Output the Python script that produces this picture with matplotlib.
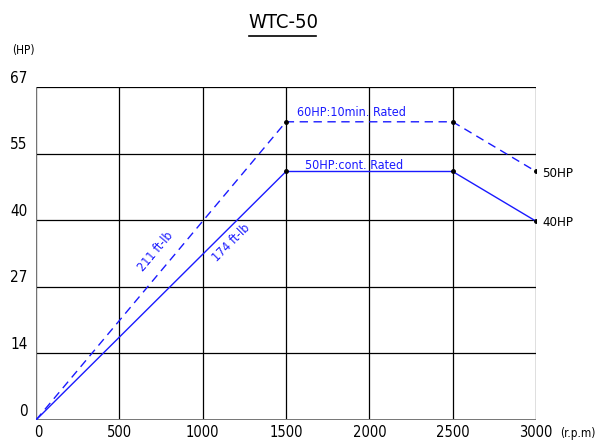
import matplotlib
matplotlib.use("Agg")
import matplotlib.pyplot as plt

plt.rcParams['font.family'] = ["DejaVu Sans"]
plt.rcParams['font.stretch'] = "condensed"

rpm = [0, 1500, 2500, 3000]
hp_10min = [0, 60, 60, 50]
hp_cont = [0, 50, 50, 40]
x_ticks = [0, 500, 1000, 1500, 2000, 2500, 3000]
y_tick_labels = ["0", "14", "27", "40", "55", "67"]
y_max = 67

BLUE = "#1a1aff"
FS = 10.5

fig = plt.figure(figsize=(5.95, 4.43), dpi=100)
ax = fig.add_axes([36/595, 23/443, 500/595, 333/443])
ax.set_xlim(0, 3000)
ax.set_ylim(0, y_max)

ypos = [y_max * i / (len(y_tick_labels) - 1) for i in range(len(y_tick_labels))]
for y in ypos:
    ax.axhline(y, color="black", lw=0.9, zorder=1)
for x in x_ticks:
    ax.axvline(x, color="black", lw=0.9, zorder=1)
for s in ax.spines.values():
    s.set_visible(False)
ax.axvline(0, color="#777777", lw=1.4, zorder=2)
ax.axhline(0, color="#777777", lw=1.4, zorder=2)

ax.plot(rpm, hp_10min, color=BLUE, lw=1.0, ls=(0, (6, 4)), zorder=3)
ax.plot(rpm, hp_cont, color=BLUE, lw=1.0, zorder=3)
ax.plot(rpm[1:], hp_10min[1:], 'o', color="black", ms=2.5, zorder=4)
ax.plot(rpm[1:], hp_cont[1:], 'o', color="black", ms=2.5, zorder=4)

ax.set_xticks([])
ax.set_yticks([])

for x in x_ticks:
    ax.text(x + (12 if x == 0 else 0), -1.1, str(x), ha="center", va="top",
            fontsize=FS, color="black", stretch="condensed")
for y, lab in zip(ypos, y_tick_labels):
    ax.text(-50, y + 0.3, lab, ha="right", va="bottom", fontsize=FS + 0.5,
            color="black", stretch="condensed")

ax.text(3252, -1.5, "(r.p.m)", ha="center", va="top", fontsize=8.5, stretch="condensed")
ax.text(-78, 74.4, "(HP)", ha="center", va="center", fontsize=8.5, stretch="condensed")

ax.text(1566, 61.2, "60HP:10min. Rated", color=BLUE, fontsize=9, ha="left",
        va="baseline", stretch="condensed")
ax.text(1614, 50.6, "50HP:cont. Rated", color=BLUE, fontsize=9, ha="left",
        va="baseline", stretch="condensed")
ax.text(3036, 49.5, "50HP", color="black", fontsize=9.5, ha="left", va="center", stretch="condensed")
ax.text(3036, 39.8, "40HP", color="black", fontsize=9.5, ha="left", va="center", stretch="condensed")

ax.text(720, 33.8, "211 ft-lb", color=BLUE, fontsize=9, ha="center", va="center",
        rotation=50, stretch="condensed")
ax.text(1170, 35.6, "174 ft-lb", color=BLUE, fontsize=9, ha="center", va="center",
        rotation=45, stretch="condensed")

fig.text(283/595, 1 - 22/443, "WTC-50", fontsize=14.5, ha="center", va="center", stretch="condensed")
fig.add_artist(plt.Line2D([249/595, 316/595], [1 - 36/443, 1 - 36/443], color="black", lw=1.2))

fig.savefig("out.png", dpi=100)
